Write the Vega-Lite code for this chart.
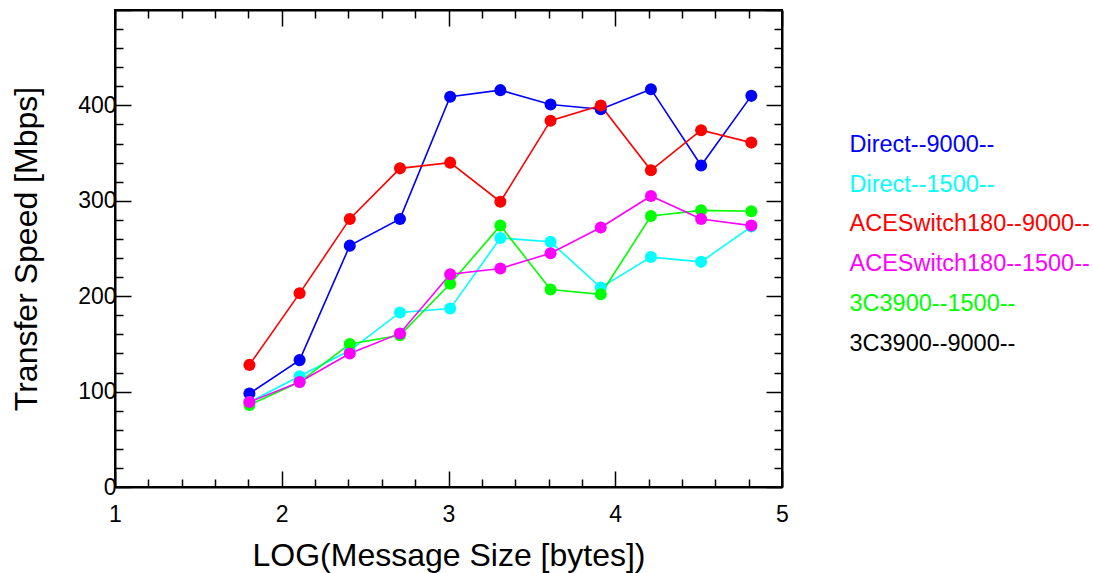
{
  "$schema": "https://vega.github.io/schema/vega-lite/v6.json",
  "width": 667,
  "height": 477,
  "autosize": "none",
  "padding": {"left": 115, "top": 10, "right": 311, "bottom": 86},
  "background": "white",
  "config": {
    "view": {"stroke": "black", "strokeWidth": 2},
    "font": "Liberation Sans",
    "axis": {
      "grid": false,
      "domainColor": "black",
      "domainWidth": 2,
      "tickColor": "black",
      "tickWidth": 1.5,
      "labelColor": "black",
      "labelFontSize": 23,
      "titleColor": "black",
      "titleFontSize": 32,
      "titleFontWeight": "normal",
      "labelFont": "Liberation Sans",
      "titleFont": "Liberation Sans"
    }
  },
  "data": {
    "values": [
      {"logsize": 1.806, "speed": 98, "series": "Direct--9000--"},
      {"logsize": 2.107, "speed": 133, "series": "Direct--9000--"},
      {"logsize": 2.408, "speed": 253, "series": "Direct--9000--"},
      {"logsize": 2.709, "speed": 281, "series": "Direct--9000--"},
      {"logsize": 3.010, "speed": 409, "series": "Direct--9000--"},
      {"logsize": 3.311, "speed": 416, "series": "Direct--9000--"},
      {"logsize": 3.612, "speed": 401, "series": "Direct--9000--"},
      {"logsize": 3.913, "speed": 396, "series": "Direct--9000--"},
      {"logsize": 4.214, "speed": 417, "series": "Direct--9000--"},
      {"logsize": 4.515, "speed": 337, "series": "Direct--9000--"},
      {"logsize": 4.816, "speed": 410, "series": "Direct--9000--"},
      {"logsize": 1.806, "speed": 89, "series": "Direct--1500--"},
      {"logsize": 2.107, "speed": 116, "series": "Direct--1500--"},
      {"logsize": 2.408, "speed": 143, "series": "Direct--1500--"},
      {"logsize": 2.709, "speed": 183, "series": "Direct--1500--"},
      {"logsize": 3.010, "speed": 187, "series": "Direct--1500--"},
      {"logsize": 3.311, "speed": 261, "series": "Direct--1500--"},
      {"logsize": 3.612, "speed": 257, "series": "Direct--1500--"},
      {"logsize": 3.913, "speed": 209, "series": "Direct--1500--"},
      {"logsize": 4.214, "speed": 241, "series": "Direct--1500--"},
      {"logsize": 4.515, "speed": 236, "series": "Direct--1500--"},
      {"logsize": 4.816, "speed": 273, "series": "Direct--1500--"},
      {"logsize": 1.806, "speed": 128, "series": "ACESwitch180--9000--"},
      {"logsize": 2.107, "speed": 203, "series": "ACESwitch180--9000--"},
      {"logsize": 2.408, "speed": 281, "series": "ACESwitch180--9000--"},
      {"logsize": 2.709, "speed": 334, "series": "ACESwitch180--9000--"},
      {"logsize": 3.010, "speed": 340, "series": "ACESwitch180--9000--"},
      {"logsize": 3.311, "speed": 299, "series": "ACESwitch180--9000--"},
      {"logsize": 3.612, "speed": 384, "series": "ACESwitch180--9000--"},
      {"logsize": 3.913, "speed": 400, "series": "ACESwitch180--9000--"},
      {"logsize": 4.214, "speed": 332, "series": "ACESwitch180--9000--"},
      {"logsize": 4.515, "speed": 374, "series": "ACESwitch180--9000--"},
      {"logsize": 4.816, "speed": 361, "series": "ACESwitch180--9000--"},
      {"logsize": 1.806, "speed": 86, "series": "3C3900--1500--"},
      {"logsize": 2.107, "speed": 110, "series": "3C3900--1500--"},
      {"logsize": 2.408, "speed": 150, "series": "3C3900--1500--"},
      {"logsize": 2.709, "speed": 159, "series": "3C3900--1500--"},
      {"logsize": 3.010, "speed": 213, "series": "3C3900--1500--"},
      {"logsize": 3.311, "speed": 274, "series": "3C3900--1500--"},
      {"logsize": 3.612, "speed": 207, "series": "3C3900--1500--"},
      {"logsize": 3.913, "speed": 202, "series": "3C3900--1500--"},
      {"logsize": 4.214, "speed": 284, "series": "3C3900--1500--"},
      {"logsize": 4.515, "speed": 290, "series": "3C3900--1500--"},
      {"logsize": 4.816, "speed": 289, "series": "3C3900--1500--"},
      {"logsize": 1.806, "speed": 89, "series": "ACESwitch180--1500--"},
      {"logsize": 2.107, "speed": 110, "series": "ACESwitch180--1500--"},
      {"logsize": 2.408, "speed": 140, "series": "ACESwitch180--1500--"},
      {"logsize": 2.709, "speed": 161, "series": "ACESwitch180--1500--"},
      {"logsize": 3.010, "speed": 223, "series": "ACESwitch180--1500--"},
      {"logsize": 3.311, "speed": 229, "series": "ACESwitch180--1500--"},
      {"logsize": 3.612, "speed": 245, "series": "ACESwitch180--1500--"},
      {"logsize": 3.913, "speed": 272, "series": "ACESwitch180--1500--"},
      {"logsize": 4.214, "speed": 305, "series": "ACESwitch180--1500--"},
      {"logsize": 4.515, "speed": 281, "series": "ACESwitch180--1500--"},
      {"logsize": 4.816, "speed": 274, "series": "ACESwitch180--1500--"}
    ]
  },
  "encoding": {
    "x": {"field": "logsize", "type": "quantitative", "scale": {"domain": [1, 5], "nice": false}},
    "y": {"field": "speed", "type": "quantitative", "scale": {"domain": [0, 500], "nice": false}},
    "color": {
      "field": "series",
      "type": "nominal",
      "scale": {
        "domain": ["Direct--9000--", "Direct--1500--", "ACESwitch180--9000--", "ACESwitch180--1500--", "3C3900--1500--", "3C3900--9000--"],
        "range": ["#0000ff", "#00ffff", "#ff0000", "#ff00ff", "#00ff00", "#000000"]
      },
      "legend": {
        "title": null,
        "orient": "none",
        "legendX": 711,
        "legendY": 123,
        "symbolSize": 0,
        "symbolOpacity": 0,
        "symbolStrokeWidth": 0,
        "labelOffset": 0,
        "labelFontSize": 23.5,
        "labelLimit": 0,
        "labelFont": "Liberation Sans",
        "rowPadding": 14.8,
        "encode": {"labels": {"update": {"fill": {"scale": "color", "field": "value"}}}}
      }
    }
  },
  "layer": [
    {
      "mark": {"type": "line", "strokeWidth": 1.6},
      "encoding": {
        "x": {
          "field": "logsize", "type": "quantitative",
          "axis": {
            "orient": "bottom",
            "title": "LOG(Message Size [bytes])",
            "titlePadding": 14,
            "values": [1, 1.2, 1.4, 1.6, 1.8, 2, 2.2, 2.4, 2.6, 2.8, 3, 3.2, 3.4, 3.6, 3.8, 4, 4.2, 4.4, 4.6, 4.8, 5],
            "labelExpr": "abs(datum.value - round(datum.value)) < 0.001 ? format(datum.value, 'd') : ''",
            "tickSize": {"condition": {"test": "abs(datum.value - round(datum.value)) < 0.001", "value": -16}, "value": -8},
            "labelPadding": 32,
            "labelFlush": false
          }
        },
        "y": {
          "field": "speed", "type": "quantitative",
          "axis": {
            "orient": "left",
            "title": "Transfer Speed [Mbps]",
            "titlePadding": 34,
            "values": [0, 20, 40, 60, 80, 100, 120, 140, 160, 180, 200, 220, 240, 260, 280, 300, 320, 340, 360, 380, 400, 420, 440, 460, 480, 500],
            "labelExpr": "datum.value % 100 === 0 && datum.value < 500 ? datum.label : ''",
            "tickSize": {"condition": {"test": "datum.value % 100 === 0", "value": -16}, "value": -8},
            "labelPadding": 15,
            "labelFlush": false
          }
        }
      }
    },
    {
      "mark": {"type": "circle", "size": 145, "opacity": 1},
      "encoding": {
        "x": {
          "field": "logsize", "type": "quantitative",
          "axis": {
            "orient": "top",
            "title": null,
            "values": [1, 1.2, 1.4, 1.6, 1.8, 2, 2.2, 2.4, 2.6, 2.8, 3, 3.2, 3.4, 3.6, 3.8, 4, 4.2, 4.4, 4.6, 4.8, 5],
            "labels": false,
            "tickSize": {"condition": {"test": "abs(datum.value - round(datum.value)) < 0.001", "value": -16}, "value": -8}
          }
        },
        "y": {
          "field": "speed", "type": "quantitative",
          "axis": {
            "orient": "right",
            "title": null,
            "values": [0, 20, 40, 60, 80, 100, 120, 140, 160, 180, 200, 220, 240, 260, 280, 300, 320, 340, 360, 380, 400, 420, 440, 460, 480, 500],
            "labels": false,
            "tickSize": {"condition": {"test": "datum.value % 100 === 0", "value": -16}, "value": -8}
          }
        }
      }
    }
  ],
  "resolve": {"axis": {"x": "independent", "y": "independent"}}
}
